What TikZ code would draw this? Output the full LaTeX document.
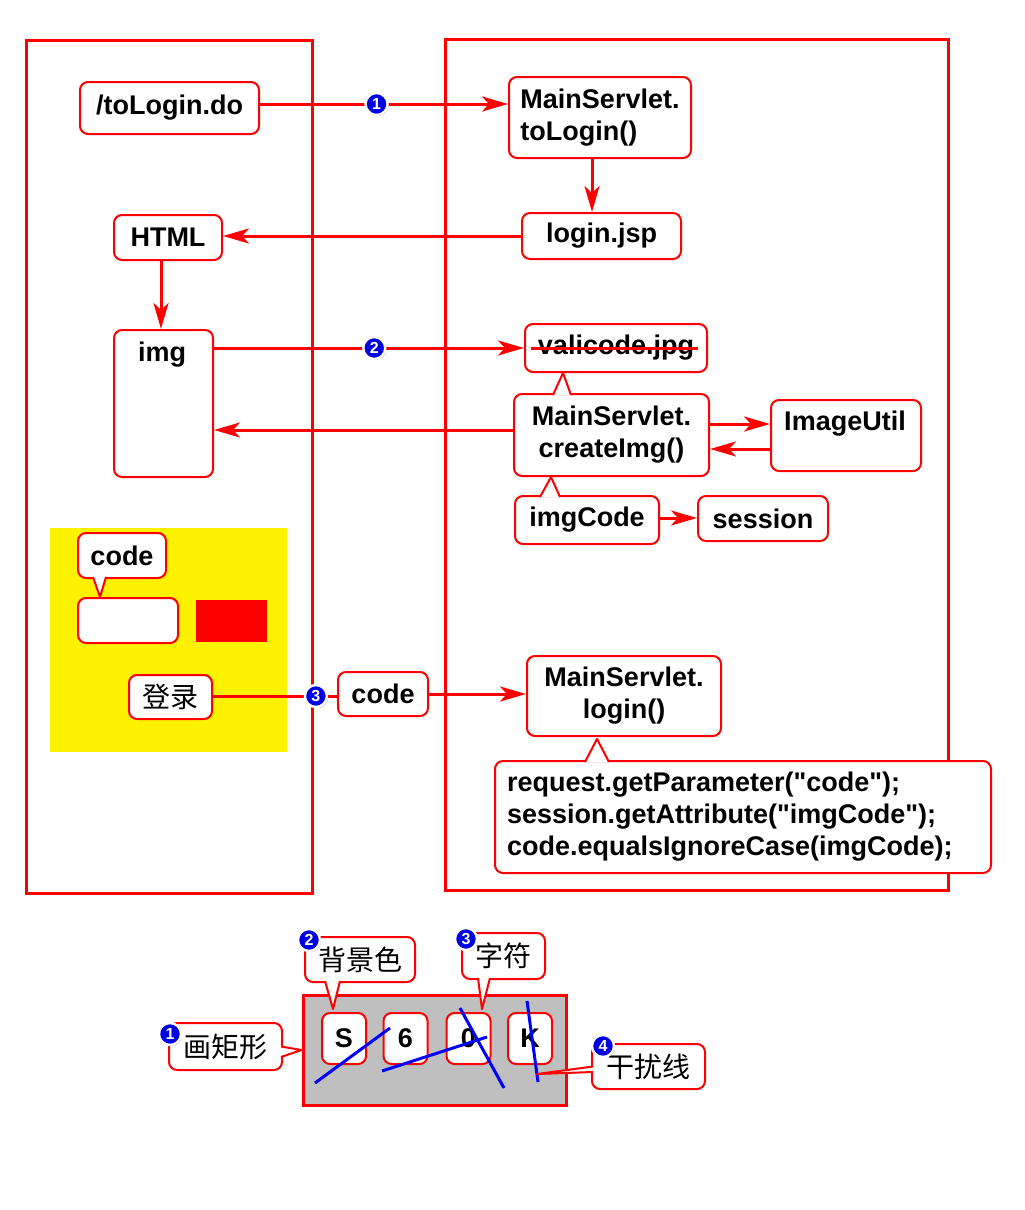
\documentclass[tikz,border=0pt]{standalone}
\usepackage{fontspec}
\setmainfont{Liberation Sans}
\newfontfamily\cjk{Noto Sans CJK SC}
\usetikzlibrary{arrows.meta,positioning,calc,shadows}
\tikzstyle{box}=[draw=red,line width=1pt,rounded corners=4pt,fill=white,inner sep=2pt,font=\bfseries\fontsize{13.5}{16}\selectfont]
\tikzstyle{cnbox}=[box,font=\cjk\fontsize{14}{16}\selectfont]
\tikzstyle{txt}=[inner sep=0pt,font=\bfseries\fontsize{13.5}{16}\selectfont]
\tikzstyle{frame}=[draw=red,line width=1.5pt]
\tikzstyle{flow}=[red,line width=1.5pt,-{Stealth[length=13pt,width=7.5pt,inset=3.5pt]}]
\tikzstyle{wire}=[red,line width=1.5pt]
\tikzstyle{noise}=[blue,line width=1.5pt]
\tikzstyle{badge}=[circle,fill=blue!90!black,draw=white,line width=1.2pt,text=white,inner sep=0pt,minimum size=11pt,font=\bfseries\fontsize{8}{8}\selectfont,drop shadow={shadow xshift=0.6pt,shadow yshift=-0.6pt}]
\newcommand{\calltip}[3]{\fill[white] #1 -- #2 -- #3 -- cycle;
  \draw[red,line width=1pt,line join=round] #1 -- #2 -- #3;}

\begin{document}
\begin{tikzpicture}[x=0.5pt,y=-0.5pt]
    \useasboundingbox (0,0) rectangle (1024,1210);
    % browser and server
    \draw[frame] (26,40) rectangle (312,893);
    \draw[frame] (445,39) rectangle (948,890);
    \fill[yellow] (50,528) rectangle (287,752);

    \node [box,minimum width=89.5pt,minimum height=26pt] (tologin) at (169.5,108) {/toLogin.do};
    \node [box,minimum width=91pt,minimum height=40.5pt,align=left] (mstologin) at (600,117.5) {MainServlet.\\toLogin()};
    \node [box,minimum width=79.5pt,minimum height=23pt] (loginjsp) at (601.5,236) {login.jsp};
    \node [box,minimum width=54pt,minimum height=22.5pt] (html) at (168,237.5) {HTML};
    \node [box,minimum width=49.5pt,minimum height=73.5pt] (img) at (163.5,403.5) {};
    \node [txt] (imgtxt) at (162,355) {img};
    \node [box,minimum width=91pt,minimum height=24pt] (vali) at (616,348) {valicode.jpg};
    \draw[red,line width=1.5pt] ([xshift=3.5pt]vali.west) -- ([xshift=-5pt]vali.east);
    \node [box,minimum width=97.5pt,minimum height=41pt,align=center] (create) at (611.5,435) {MainServlet.\\createImg()};
    \node [box,minimum width=75pt,minimum height=35.5pt] (imageutil) at (846,435.5) {};
    \node [txt] (imageutiltxt) at (845,424) {ImageUtil};
    \node [box,minimum width=72pt,minimum height=24pt] (imgcode) at (587,520) {imgCode};
    \node [box,minimum width=65pt,minimum height=22.5pt] (session) at (763,518.5) {session};

    % login form
    \node [box,minimum width=44pt,minimum height=22.5pt] (codetip) at (122,555.5) {code};
    \node [box,minimum width=50pt,minimum height=22.5pt] (input) at (128,620.5) {};
    \node [fill=red,minimum width=35.5pt,minimum height=21pt] (vcode) at (231.5,621) {};
    \node [cnbox,minimum width=41.5pt,minimum height=22pt] (loginbtn) at (170.5,697) {登录};
    \node [box,minimum width=45pt,minimum height=22pt] (codemsg) at (383,694) {code};
    \node [box,minimum width=97pt,minimum height=40pt,align=center] (mslogin) at (624,696) {MainServlet.\\login()};
    \node [box,minimum width=248pt,minimum height=56pt,text width=236pt,align=left] (check) at (743,817) {request.getParameter(\textquotedbl code\textquotedbl);\\session.getAttribute(\textquotedbl imgCode\textquotedbl);\\code.equalsIgnoreCase(imgCode);};

    \calltip{([xshift=-29.25pt,yshift=-1pt]create.north)}{([xshift=-26.5pt]vali.south)}{([xshift=-20.25pt,yshift=-1pt]create.north)}
    \calltip{([xshift=-23.5pt,yshift=-1pt]imgcode.north)}{([xshift=-30.25pt]create.south)}{([xshift=-13.5pt,yshift=-1pt]imgcode.north)}
    \calltip{([xshift=-79pt,yshift=-1pt]check.north)}{([xshift=-13.5pt,yshift=-1pt]mslogin.south)}{([xshift=-67pt,yshift=-1pt]check.north)}
    \calltip{([xshift=-14.5pt,yshift=1pt]codetip.south)}{([xshift=-14pt]input.north)}{([xshift=-8pt,yshift=1pt]codetip.south)}

    % requests
    \draw[flow] ([yshift=2pt]tologin.east) -- node[pos=0.47,badge] (b1) {1} ([yshift=2pt]tologin.east -| mstologin.west);
    \draw[flow] ([xshift=-4pt]mstologin.south) -- ([xshift=-4pt]mstologin.south |- loginjsp.north);
    \draw[flow] (loginjsp.west) -- (loginjsp.west -| html.east);
    \draw[flow] ([xshift=-3.5pt]html.south) -- ([xshift=-3.5pt]html.south |- img.north);
    \draw[flow] ([xshift=-1pt]img.east |- vali.west) -- node[pos=0.52,badge] (b2) {2} (vali.west);
    \draw[flow] ([yshift=2.5pt]create.west) -- ([yshift=2.5pt]create.west -| img.east);
    \draw[flow] ([yshift=5.5pt]create.east) -- ([yshift=5.5pt]create.east -| imageutil.west);
    \draw[flow] ([yshift=-6.75pt]imageutil.west) -- ([yshift=-6.75pt]imageutil.west -| create.east);
    \draw[flow] ([yshift=1pt]imgcode.east) -- ([yshift=1pt]imgcode.east -| session.west);
    \draw[wire] ([yshift=0.5pt]loginbtn.east) -- node[pos=0.83,badge] (b3) {3} ([yshift=0.5pt]loginbtn.east -| codemsg.west);
    \draw[flow] (codemsg.east) -- (codemsg.east -| mslogin.west);

    % captcha image
    \node [draw=red,line width=1.5pt,fill=black!25,minimum width=131.5pt,minimum height=55pt] (bgimg) at (434.5,1050) {};
    \node [box,minimum width=22pt,minimum height=25.5pt] (chS) at (344,1038.5) {S};
    \node [box,minimum width=22pt,minimum height=25.5pt] (ch6) at (405.5,1038.5) {6};
    \node [box,minimum width=22pt,minimum height=25.5pt] (ch0) at (468.5,1038.5) {0};
    \node [box,minimum width=22pt,minimum height=25.5pt] (chK) at (530,1038.5) {K};
    \draw[noise] (315,1083) -- (390,1028);
    \draw[noise] (382,1071) -- (487,1037);
    \draw[noise] (460,1008) -- (504,1088);
    \draw[noise] (527,1001) -- (538,1082);
    \coordinate (noiseK) at (537,1074);

    \node [cnbox,minimum width=56.5pt,minimum height=23.5pt] (rectlbl) at (225.5,1046.5) {画矩形};
    \node [cnbox,minimum width=55pt,minimum height=22.5pt] (bglbl) at (360,959.5) {背景色};
    \node [cnbox,minimum width=41.5pt,minimum height=23pt] (charlbl) at (503.5,956) {字符};
    \node [cnbox,minimum width=56.5pt,minimum height=22.5pt] (noiselbl) at (648.5,1066.5) {干扰线};

    \calltip{([xshift=-1pt]rectlbl.east)}{(bgimg.west)}{([xshift=-1pt,yshift=-5.25pt]rectlbl.east)}
    \calltip{([xshift=-17.5pt,yshift=1pt]bglbl.south)}{([xshift=-5.5pt,yshift=1.5pt]chS.north)}{([xshift=-10pt,yshift=1pt]bglbl.south)}
    \calltip{([xshift=-12.75pt,yshift=1pt]charlbl.south)}{([xshift=6.75pt,yshift=1.5pt]ch0.north)}{([xshift=-6.75pt,yshift=1pt]charlbl.south)}
    \calltip{([xshift=1pt]noiselbl.west)}{(noiseK)}{([xshift=1pt,yshift=-2.75pt]noiselbl.west)}

    \node [badge] (n1) at (170,1034) {1};
    \node [badge] (n2) at (309,940) {2};
    \node [badge] (n3) at (466,939) {3};
    \node [badge] (n4) at (603,1046) {4};
\end{tikzpicture}
\end{document}
